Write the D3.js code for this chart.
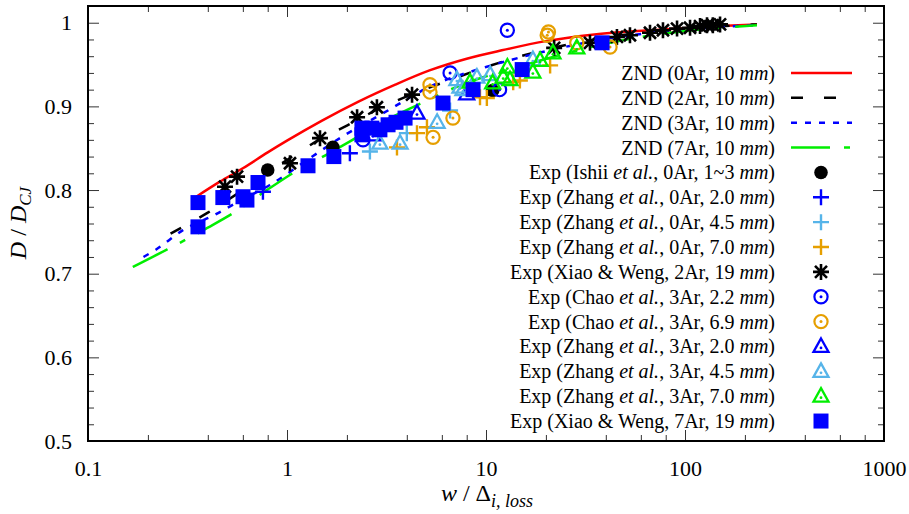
<!DOCTYPE html>
<html>
<head>
<meta charset="utf-8">
<script src="https://cdn.jsdelivr.net/npm/d3@7"></script>
<style>
  body { margin: 0; background: #fff; }
  svg text { font-family: "Liberation Serif", "Times New Roman", serif; fill: #000; }
</style>
</head>
<body>
<div id="chart"></div>
<script>
// ---- data: [w / Delta_i,loss , D / D_CJ] ----
const znd0Ar = [[0.35,0.792],[0.46,0.810],[0.6,0.826],[0.8,0.845],[1.0,0.859],[1.5,0.883],[2.3,0.906],[3.5,0.926],[5.2,0.943],[8,0.957],[12,0.967],[20,0.978],[35,0.986],[77,0.992],[150,0.996],[230,0.998]];
const znd2Ar = [[0.26,0.748],[0.4,0.773],[0.6,0.800],[1.0,0.836],[1.5,0.862],[2.0,0.877],[3.0,0.899],[4.0,0.912],[6.5,0.931],[10,0.947],[14,0.958],[20,0.968],[35,0.980],[60,0.988],[100,0.993],[230,0.998]];
const znd3Ar = [[0.19,0.720],[0.22,0.729],[0.3,0.752],[0.43,0.770],[0.6,0.789],[0.82,0.806],[1.3,0.838],[1.9,0.864],[3.0,0.891],[5.5,0.926],[10,0.947],[20,0.966],[50,0.984],[100,0.992],[230,0.997]];
const znd7Ar = [[0.168,0.708],[0.25,0.729],[0.4,0.755],[0.55,0.774],[0.76,0.797],[1.1,0.822],[1.6,0.843],[2.0,0.856],[3.0,0.881],[4.3,0.899],[7.6,0.926],[16,0.950],[30,0.968],[60,0.983],[120,0.992],[230,0.997]];

const ishii0Ar = [[0.80,0.824],[1.70,0.851],[10.8,0.919]];
const zhang0Ar20 = [[0.757,0.798],[2.07,0.844]];
const zhang0Ar45 = [[2.61,0.846],[4.0,0.868],[6.6,0.895]];
const zhang0Ar70 = [[3.57,0.851],[4.5,0.868],[5.05,0.875],[9.33,0.911],[10.1,0.910],[13.7,0.929],[14.8,0.931],[21.0,0.949]];
const xiao2Ar = [[0.488,0.804],[0.561,0.816],[1.035,0.832],[1.465,0.862],[2.25,0.887],[2.83,0.899],[4.25,0.914],[22,0.970],[33.3,0.976],[45.5,0.983],[52.9,0.985],[66.7,0.988],[77.5,0.991],[91.2,0.993],[106,0.994],[119,0.996],[129,0.997],[138,0.997],[150,0.998]];
const chao3Ar22 = [[2.41,0.860],[6.6,0.940],[11.7,0.920],[12.8,0.991]];
const chao3Ar69 = [[5.42,0.863],[6.82,0.886],[5.23,0.917],[5.23,0.926],[20.3,0.985],[20.6,0.989],[28.6,0.976],[42,0.971]];
const zhang3Ar20 = [[2.7,0.866],[4.5,0.892],[8.0,0.915]];
const zhang3Ar45 = [[2.93,0.856],[3.70,0.856],[5.68,0.881],[7.14,0.932],[7.4,0.923],[7.66,0.920],[9.0,0.935],[10.5,0.938],[17.2,0.956]];
const zhang3Ar70 = [[8.31,0.929],[10.8,0.928],[12.2,0.935],[12.8,0.947],[13.2,0.932],[17.2,0.941],[18.7,0.955],[21.7,0.964],[28.6,0.970]];
const xiao7Ar = [[0.357,0.785],[0.357,0.756],[0.476,0.791],[0.601,0.792],[0.629,0.788],[0.715,0.809],[1.275,0.829],[1.72,0.840],[2.38,0.874],[2.38,0.866],[2.67,0.874],[2.93,0.872],[3.22,0.878],[3.53,0.881],[3.92,0.886],[6.08,0.904],[8.61,0.920],[15.2,0.944],[38.3,0.976]];

const legendLabels = [
  "ZND (0Ar, 10 *mm*)",
  "ZND (2Ar, 10 *mm*)",
  "ZND (3Ar, 10 *mm*)",
  "ZND (7Ar, 10 *mm*)",
  "Exp (Ishii *et al.*, 0Ar, 1~3 *mm*)",
  "Exp (Zhang *et al.*, 0Ar, 2.0 *mm*)",
  "Exp (Zhang *et al.*, 0Ar, 4.5 *mm*)",
  "Exp (Zhang *et al.*, 0Ar, 7.0 *mm*)",
  "Exp (Xiao & Weng, 2Ar, 19 *mm*)",
  "Exp (Chao *et al.*, 3Ar, 2.2 *mm*)",
  "Exp (Chao *et al.*, 3Ar, 6.9 *mm*)",
  "Exp (Zhang *et al.*, 3Ar, 2.0 *mm*)",
  "Exp (Zhang *et al.*, 3Ar, 4.5 *mm*)",
  "Exp (Zhang *et al.*, 3Ar, 7.0 *mm*)",
  "Exp (Xiao & Weng, 7Ar, 19 *mm*)"
];

const xTicks = [0.1, 1, 10, 100, 1000];
const yTicks = [0.5, 0.6, 0.7, 0.8, 0.9, 1];

// ---- series styling ----
const lineSeries = [
  { data: znd0Ar, color: "#ff0000", dash: null },
  { data: znd2Ar, color: "#000000", dash: "12,21" },
  { data: znd3Ar, color: "#0000ff", dash: "6,8" },
  { data: znd7Ar, color: "#00ee00", dash: "39,14,6,14" }
];
const pointSeries = [
  { data: ishii0Ar,   color: "#000000", sym: "dot" },
  { data: zhang0Ar20, color: "#0000ff", sym: "plus" },
  { data: zhang0Ar45, color: "#56b4e9", sym: "plus" },
  { data: zhang0Ar70, color: "#e69f00", sym: "plus" },
  { data: xiao2Ar,    color: "#000000", sym: "star" },
  { data: chao3Ar22,  color: "#0000ff", sym: "circ" },
  { data: chao3Ar69,  color: "#e69f00", sym: "circ" },
  { data: zhang3Ar20, color: "#0000ff", sym: "tri" },
  { data: zhang3Ar45, color: "#56b4e9", sym: "tri" },
  { data: zhang3Ar70, color: "#00ee00", sym: "tri" },
  { data: xiao7Ar,    color: "#0000ff", sym: "square" }
];

const width = 909, height = 514;
const plot = { left: 88, right: 884, top: 6, bottom: 441 };

const x = d3.scaleLog().domain([0.1, 1000]).range([plot.left, plot.right]);
const y = d3.scaleLinear().domain([0.5, 1.02]).range([plot.bottom, plot.top]);

const svg = d3.select("#chart").append("svg")
  .attr("width", width).attr("height", height);

svg.append("defs").append("clipPath").attr("id", "clip")
  .append("rect")
  .attr("x", plot.left).attr("y", plot.top)
  .attr("width", plot.right - plot.left).attr("height", plot.bottom - plot.top);

// minor tick values
const xMinor = [];
[0.1, 1, 10, 100].forEach(dec => [2, 4, 6, 8].forEach(m => xMinor.push(m * dec)));
const yMinor = d3.range(0.52, 1.02, 0.02).filter(v => Math.abs(v * 10 - Math.round(v * 10)) > 1e-6);

const fmt = d3.format("~g");
function styleAxis(g) {
  g.select(".domain").remove();
  g.selectAll(".tick line").attr("stroke", "#333").attr("stroke-width", 1);
  g.selectAll(".tick text").style("font-size", "22px").attr("font-family", null);
}

// bottom / top
svg.append("g").attr("transform", `translate(0,${plot.bottom})`)
  .call(d3.axisBottom(x).tickValues(xTicks).tickSize(-11).tickPadding(19).tickFormat(fmt)).call(styleAxis);
svg.append("g").attr("transform", `translate(0,${plot.bottom})`)
  .call(d3.axisBottom(x).tickValues(xMinor).tickSize(-6).tickFormat("")).call(styleAxis);
svg.append("g").attr("transform", `translate(0,${plot.top})`)
  .call(d3.axisTop(x).tickValues(xTicks).tickSize(-11).tickFormat("")).call(styleAxis);
svg.append("g").attr("transform", `translate(0,${plot.top})`)
  .call(d3.axisTop(x).tickValues(xMinor).tickSize(-6).tickFormat("")).call(styleAxis);

// left / right
svg.append("g").attr("transform", `translate(${plot.left},0)`)
  .call(d3.axisLeft(y).tickValues(yTicks).tickSize(-11).tickPadding(16).tickFormat(fmt)).call(styleAxis);
svg.append("g").attr("transform", `translate(${plot.left},0)`)
  .call(d3.axisLeft(y).tickValues(yMinor).tickSize(-6).tickFormat("")).call(styleAxis);
svg.append("g").attr("transform", `translate(${plot.right},0)`)
  .call(d3.axisRight(y).tickValues(yTicks).tickSize(-11).tickFormat("")).call(styleAxis);
svg.append("g").attr("transform", `translate(${plot.right},0)`)
  .call(d3.axisRight(y).tickValues(yMinor).tickSize(-6).tickFormat("")).call(styleAxis);

// ZND curves
const line = d3.line().x(d => x(d[0])).y(d => y(d[1])).curve(d3.curveMonotoneX);
const curves = svg.append("g").attr("clip-path", "url(#clip)");
lineSeries.forEach(s => {
  curves.append("path")
    .attr("d", line(s.data))
    .attr("fill", "none")
    .attr("stroke", s.color)
    .attr("stroke-width", 2.5)
    .attr("stroke-dasharray", s.dash);
});

// symbols
function drawSymbol(g, sym, color, cx, cy) {
  const t = `translate(${cx},${cy})`;
  if (sym === "dot") {
    g.append("circle").attr("cx", cx).attr("cy", cy).attr("r", 6.8).attr("fill", color);
  } else if (sym === "plus") {
    g.append("path").attr("transform", t).attr("d", "M-8,0H8M0,-8V8")
      .attr("stroke", color).attr("stroke-width", 2.4).attr("fill", "none");
  } else if (sym === "star") {
    g.append("path").attr("transform", t)
      .attr("d", "M-8,0H8M0,-8V8M-6,-6L6,6M-6,6L6,-6")
      .attr("stroke", color).attr("stroke-width", 2.6).attr("fill", "none");
  } else if (sym === "circ") {
    g.append("circle").attr("cx", cx).attr("cy", cy).attr("r", 6.6)
      .attr("fill", "none").attr("stroke", color).attr("stroke-width", 2.2);
    g.append("circle").attr("cx", cx).attr("cy", cy).attr("r", 1.5).attr("fill", color);
  } else if (sym === "tri") {
    g.append("path").attr("transform", t).attr("d", "M0,-8L7.5,5.5L-7.5,5.5Z")
      .attr("fill", "none").attr("stroke", color).attr("stroke-width", 2.3)
      .attr("stroke-linejoin", "miter");
    g.append("circle").attr("cx", cx).attr("cy", cy + 1.5).attr("r", 1.4).attr("fill", color);
  } else if (sym === "square") {
    g.append("rect").attr("x", cx - 7.5).attr("y", cy - 7.5)
      .attr("width", 15).attr("height", 15).attr("fill", color);
  }
}

const pts = svg.append("g");
pointSeries.forEach(s => {
  const g = pts.append("g");
  s.data.forEach(d => drawSymbol(g, s.sym, s.color, x(d[0]), y(d[1])));
});

// frame
svg.append("rect")
  .attr("x", plot.left).attr("y", plot.top)
  .attr("width", plot.right - plot.left).attr("height", plot.bottom - plot.top)
  .attr("fill", "none").attr("stroke", "#000").attr("stroke-width", 2);

// legend
const legend = svg.append("g");
const rowY = i => 73 + i * 24.86;
legendLabels.forEach((lab, i) => {
  const ty = rowY(i);
  const txt = legend.append("text")
    .attr("x", 775).attr("y", ty + 7)
    .attr("text-anchor", "end")
    .style("font-size", "20px");
  lab.split("*").forEach((part, k) => {
    if (!part) return;
    txt.append("tspan").text(part).style("font-style", k % 2 ? "italic" : "normal");
  });
  if (i < lineSeries.length) {
    const s = lineSeries[i];
    legend.append("line")
      .attr("x1", 791).attr("x2", 852).attr("y1", ty).attr("y2", ty)
      .attr("stroke", s.color).attr("stroke-width", 2.5)
      .attr("stroke-dasharray", s.dash);
  } else {
    const s = pointSeries[i - lineSeries.length];
    drawSymbol(legend, s.sym, s.color, 821, ty);
  }
});

// axis titles
const yl = svg.append("text")
  .attr("transform", `translate(26,${223}) rotate(-90)`)
  .attr("text-anchor", "middle")
  .style("font-size", "24px");
yl.append("tspan").text("D").style("font-style", "italic");
yl.append("tspan").text(" / ");
yl.append("tspan").text("D").style("font-style", "italic");
yl.append("tspan").text("CJ").style("font-style", "italic").style("font-size", "17px").attr("dy", 5);

const xl = svg.append("text")
  .attr("x", 487).attr("y", 501)
  .attr("text-anchor", "middle")
  .style("font-size", "24px");
xl.append("tspan").text("w").style("font-style", "italic");
xl.append("tspan").text(" / Δ");
xl.append("tspan").text("i, loss").style("font-style", "italic").style("font-size", "18px").attr("dy", 6);
</script>
</body>
</html>
